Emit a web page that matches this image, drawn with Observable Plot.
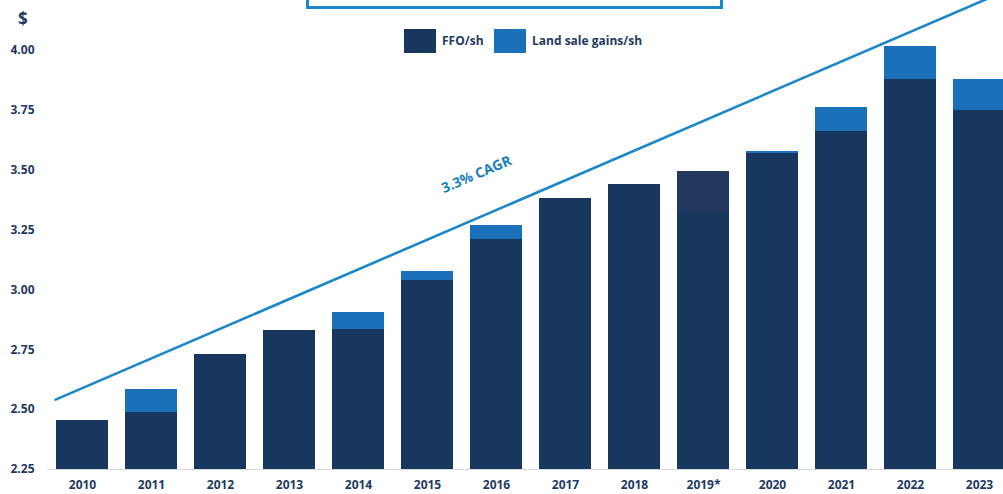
<!DOCTYPE html>
<html><head><meta charset="utf-8">
<script src="https://cdn.jsdelivr.net/npm/d3@7"></script>
<script src="https://cdn.jsdelivr.net/npm/@observablehq/plot@0.6"></script>
<style>
body{margin:0;background:#fff;}
#wrap{position:relative;width:1003px;height:494px;overflow:hidden;font-family:"Open Sans",sans-serif;color:#1f3a60;}
#wrap svg{overflow:hidden;display:block;}
.box{position:absolute;left:306px;top:-20px;width:411px;height:23px;border:3px solid #1b87c8;}
.dollar{position:absolute;left:18px;top:7px;font-weight:700;font-size:17px;}
.sw{position:absolute;top:29px;width:32px;height:24px;}
.lt{position:absolute;top:33px;font-weight:700;font-size:12px;line-height:16px;white-space:nowrap;}
</style></head><body>
<div id="wrap">
  <div class="box"></div>
  <div class="dollar">$</div>
  <div class="sw" style="left:404px;background:#17375e"></div>
  <div class="lt" style="left:442px">FFO/sh</div>
  <div class="sw" style="left:494px;background:#1a70b9"></div>
  <div class="lt" style="left:532px">Land sale gains/sh</div>
</div>
<script>
// ---- data ----
const years = ["2010","2011","2012","2013","2014","2015","2016","2017","2018","2019*","2020","2021","2022","2023"];
const ffo   = [2.455, 2.49, 2.73, 2.83, 2.835, 3.04, 3.21, 3.38, 3.44, 3.325, 3.57, 3.66, 3.88, 3.75];
const est   = [0, 0, 0, 0, 0, 0, 0, 0, 0, 0.17, 0, 0, 0, 0];
const land  = [0, 0.095, 0, 0, 0.07, 0.035, 0.06, 0, 0, 0, 0.007, 0.10, 0.137, 0.128];
const yTicks = [2.25, 2.50, 2.75, 3.00, 3.25, 3.50, 3.75, 4.00];
const yBase = 2.25;
const trendX = [-0.39, 13.5];
const trendY = [2.542, 4.264];
const cagrLabel = {x: 5.71, y: 3.482, text: "3.3% CAGR"};
const seriesNames = ["FFO/sh", "FFO/sh (2019 est.)", "Land sale gains/sh"];
const seriesColors = ["#17375e", "#23385f", "#1a70b9"];

const rows = [];
years.forEach((yr, i) => {
  rows.push({i, s: seriesNames[0], y1: yBase, y2: ffo[i]});
  if (est[i] > 0) rows.push({i, s: seriesNames[1], y1: ffo[i], y2: ffo[i] + est[i]});
  if (land[i] > 0) rows.push({i, s: seriesNames[2], y1: ffo[i] + est[i], y2: ffo[i] + est[i] + land[i]});
});
const trend = trendX.map((x, k) => ({x, y: trendY[k]}));
const txt = "#1f3a60";

const chart = Plot.plot({
  width: 1003,
  height: 494,
  marginLeft: 47,
  marginBottom: 25,
  marginTop: 50,
  marginRight: 0,
  x: {type: "linear", domain: [-0.5, 13.5], range: [47.5, 1013.5], axis: null},
  y: {domain: [2.25, 4.0], range: [469, 50], axis: null},
  color: {domain: seriesNames, range: seriesColors},
  style: {fontFamily: "Open Sans", overflow: "hidden", background: "white"},
  marks: [
    Plot.rect(rows, {x1: d => d.i - 0.5, x2: d => d.i + 0.5, y1: "y1", y2: "y2", fill: "s", insetLeft: 8.5, insetRight: 8.5, shapeRendering: "crispEdges"}),
    Plot.ruleY([yBase], {stroke: "#d9d9d9", strokeWidth: 1}),
    Plot.line(trend, {x: "x", y: "y", stroke: "#1b87c8", strokeWidth: 2.6}),
    Plot.text([cagrLabel], {x: "x", y: "y", text: "text", rotate: -23, fill: "#1a7fc0", fontSize: 14, fontWeight: 700}),
    Plot.axisX(d3.range(years.length), {tickFormat: i => years[i], tickSize: 0, tickPadding: 11, fontSize: 12, fontWeight: 700, fill: txt, label: null}),
    Plot.axisY(yTicks, {tickFormat: d3.format(".2f"), tickSize: 0, tickPadding: 13, fontSize: 12, fontWeight: 700, fill: txt, label: null})
  ]
});
document.getElementById("wrap").prepend(chart);
</script>
</body></html>
